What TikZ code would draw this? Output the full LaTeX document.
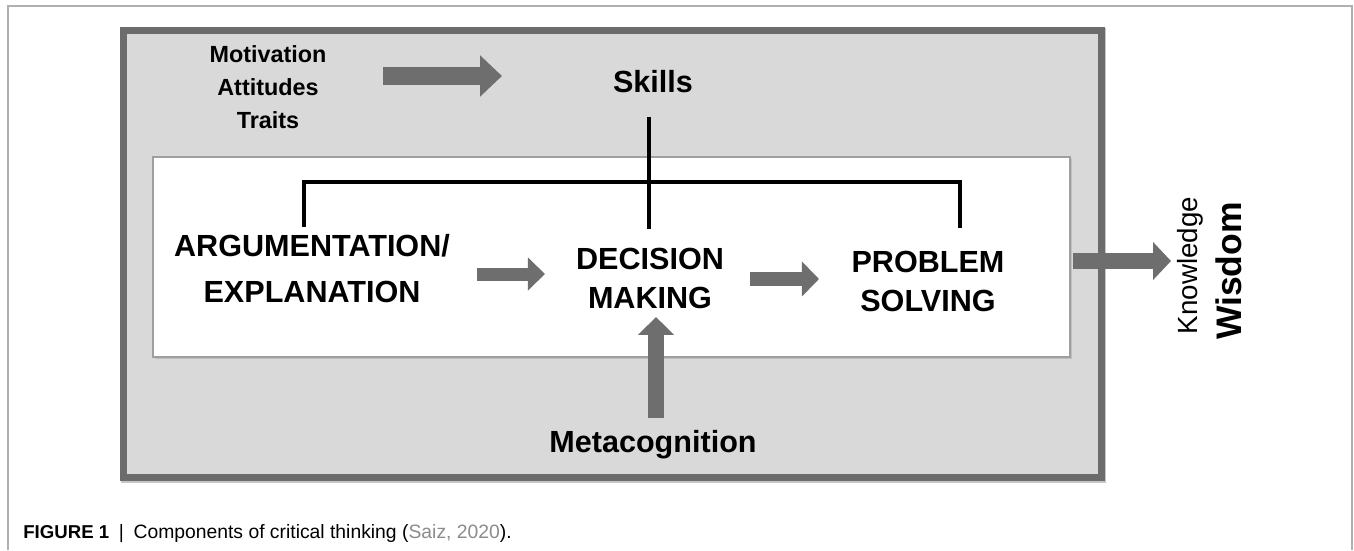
\documentclass[tikz,border=0pt]{standalone}
\usepackage{fontspec}
\setmainfont{Liberation Sans}
\usepackage{xcolor}
\usetikzlibrary{arrows.meta}

\definecolor{boxgray}{HTML}{D9D9D9}
\definecolor{rimgray}{HTML}{6C6C6C}
\definecolor{arrowgray}{HTML}{6E6E6E}
\definecolor{framegray}{HTML}{B0B0B0}
\definecolor{citegray}{HTML}{8C8C8C}

\begin{document}
\begin{tikzpicture}[x=0.02cm, y=-0.02cm,
    txt/.style={inner sep=0pt, align=center},
    blockarr/.style n args={3}{draw=arrowgray, line width=#1, -{Triangle[width=#2, length=#3]}},
    skillline/.style={line width=2.8pt, black}]

% Page and thin frame
\fill[white] (0,0) rectangle (1354,550);
\draw[framegray, line width=0.8pt] (8,550) -- (8,6) -- (1352,6) -- (1352,550);

% Outer gray box
\fill[gray!45] (121,28) rectangle (1106,483);
\draw[rimgray, fill=boxgray, line width=4pt] (123.5,30.5) rectangle (1101.5,477.5);

% Inner white box
\fill[gray!50] (155,159) rectangle (1072,359);
\draw[gray!75, fill=white, line width=0.8pt] (153,157) rectangle (1070,357);

% Text
\node[txt, font=\bfseries\fontsize{13.3}{18.8}\selectfont] (traits) at (268,87) {Motivation\\Attitudes\\Traits};
\node[txt, font=\bfseries\fontsize{17.4}{20}\selectfont, anchor=base] (skills) at (653,92) {Skills};
\node[txt, font=\bfseries\fontsize{17.4}{26.2}\selectfont] (argue) at (312,269) {ARGUMENTATION/\\EXPLANATION};
\node[txt, font=\bfseries\fontsize{17.4}{22.2}\selectfont] (decide) at (650,278.5) {DECISION\\MAKING};
\node[txt, font=\bfseries\fontsize{17.4}{22.2}\selectfont] (solve) at (928,281.5) {PROBLEM\\SOLVING};
\node[txt, font=\bfseries\fontsize{17.4}{20}\selectfont, anchor=base] (meta) at (653,452) {Metacognition};
\node[txt, font=\fontsize{15.8}{18}\selectfont, rotate=90, anchor=base] (know) at (1197,265.5) {Knowledge};
\node[txt, font=\bfseries\fontsize{20.2}{22}\selectfont, rotate=90, anchor=base] (wisdom) at (1241,271) {Wisdom};

% Skills bracket
\coordinate (stem) at (649,117);
\coordinate (hub) at (649,182);
\coordinate (argtop) at (304,227);
\coordinate (dectop) at (649,229);
\coordinate (soltop) at (960,228);
\draw[skillline] (stem) -- (dectop);
\draw[skillline, line join=miter] (argtop) |- (hub) -| (soltop);

% Block arrows
\coordinate (t1) at (383,76);   \coordinate (h1) at (502,76);
\coordinate (t2) at (477,274);  \coordinate (h2) at (545,274);
\coordinate (t3) at (750,279);  \coordinate (h3) at (819,279);
\coordinate (t4) at (656,418);  \coordinate (h4) at (656,317);
\coordinate (t5) at (1073,261); \coordinate (h5) at (1171,261);
\draw[blockarr={10.2pt}{22.8pt}{12.5pt}] (t1) -- (h1);
\draw[blockarr={7.4pt}{18.2pt}{9.7pt}] (t2) -- (h2);
\draw[blockarr={8.5pt}{19.3pt}{9.7pt}] (t3) -- (h3);
\draw[blockarr={9.1pt}{19.9pt}{10.2pt}] (t4) -- (h4);
\draw[blockarr={9.1pt}{21pt}{10.2pt}] (t5) -- (h5);

% Caption
\node[txt, anchor=base west, font=\fontsize{11}{12}\selectfont] (caption) at (23,538)
    {{\fontsize{10.6}{12}\selectfont\bfseries FIGURE 1}\enspace|\enspace Components of critical thinking (\textcolor{citegray}{Saiz, 2020}).};

\end{tikzpicture}
\end{document}
